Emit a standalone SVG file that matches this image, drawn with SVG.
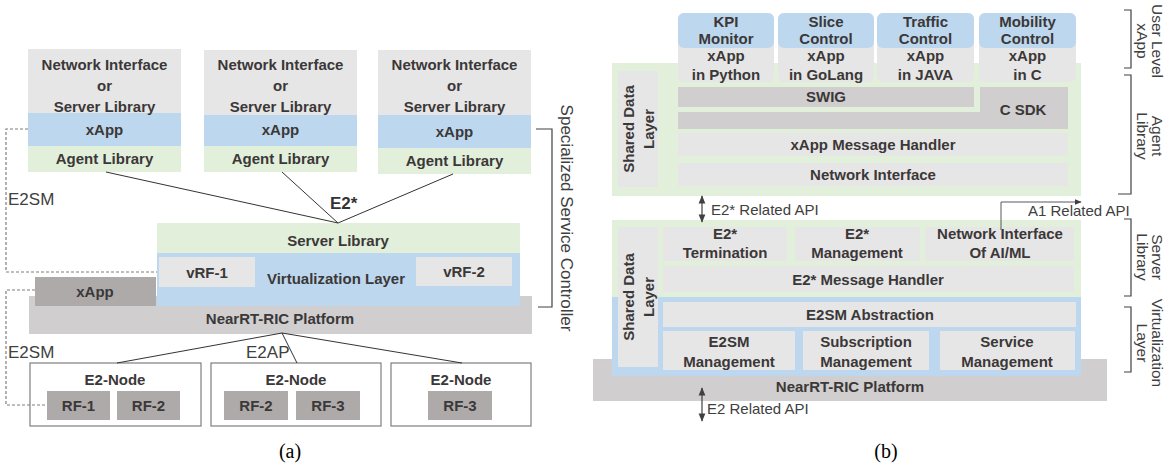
<svg xmlns="http://www.w3.org/2000/svg" width="1174" height="467" viewBox="0 0 1174 467">
<style>
.lg{fill:#e7e6e6}
.bl{fill:#bdd7ee}
.gr{fill:#e2efda}
.dg{fill:#aeaaaa}
.pg{fill:#d0cece}
.t{font-family:"Liberation Sans",Arial,sans-serif;font-weight:bold;font-size:15px;fill:#3b3838;text-anchor:middle}
.r{font-family:"Liberation Sans",Arial,sans-serif;font-size:17px;fill:#404040}
.s{font-family:"Liberation Sans",Arial,sans-serif;font-size:15px;fill:#404040}
.v{font-family:"Liberation Sans",Arial,sans-serif;font-size:15.5px;fill:#404040;text-anchor:middle}
.cap{font-family:"Liberation Serif","Times New Roman",serif;font-size:20px;fill:#000;text-anchor:middle}
.ln{stroke:#333;stroke-width:1;fill:none}
.dash{stroke:#7f7f7f;stroke-width:1.2;stroke-dasharray:3 2;fill:none}
.br{stroke:#404040;stroke-width:1.2;fill:none}
.nb{fill:#fff;stroke:#7f7f7f;stroke-width:1.2}
</style>
<defs>
<marker id="ah" viewBox="0 0 10 10" refX="9" refY="5" markerWidth="7" markerHeight="7" orient="auto-start-reverse"><path d="M0,1 L10,5 L0,9 Z" fill="#404040"/></marker>
</defs>

<!-- ===== Panel (a) ===== -->
<g id="a-box1">
<rect class="lg" x="28" y="49" width="153" height="64"/>
<rect class="bl" x="28" y="113" width="153" height="33"/>
<rect class="gr" x="28" y="146" width="153" height="26"/>
<text class="t" x="104.5" y="70">Network Interface</text>
<text class="t" x="104.5" y="91">or</text>
<text class="t" x="104.5" y="112">Server Library</text>
<text class="t" x="104.5" y="135">xApp</text>
<text class="t" x="104.5" y="164">Agent Library</text>
</g>
<g id="a-box2">
<rect class="lg" x="204" y="50" width="153" height="65"/>
<rect class="bl" x="204" y="115" width="153" height="31"/>
<rect class="gr" x="204" y="146" width="153" height="26"/>
<text class="t" x="280.5" y="70">Network Interface</text>
<text class="t" x="280.5" y="91">or</text>
<text class="t" x="280.5" y="112">Server Library</text>
<text class="t" x="280.5" y="135">xApp</text>
<text class="t" x="280.5" y="164">Agent Library</text>
</g>
<g id="a-box3">
<rect class="lg" x="378" y="50" width="153" height="65"/>
<rect class="bl" x="378" y="115" width="153" height="33"/>
<rect class="gr" x="378" y="148" width="153" height="26"/>
<text class="t" x="454.5" y="70">Network Interface</text>
<text class="t" x="454.5" y="91">or</text>
<text class="t" x="454.5" y="112">Server Library</text>
<text class="t" x="454.5" y="137">xApp</text>
<text class="t" x="454.5" y="166">Agent Library</text>
</g>

<g id="a-platform">
<rect class="pg" x="29" y="296" width="503" height="38"/>
<text class="t" x="280" y="324">NearRT-RIC Platform</text>
</g>
<g id="a-server">
<rect class="gr" x="157" y="223" width="363" height="30"/>
<text class="t" x="338" y="246">Server Library</text>
</g>
<g id="a-virt">
<rect class="bl" x="157" y="253" width="363" height="53"/>
<text class="t" x="336" y="284">Virtualization Layer</text>
</g>
<g id="a-vrf1">
<rect class="lg" x="159" y="257" width="96" height="30"/>
<text class="t" x="207" y="278">vRF-1</text>
</g>
<g id="a-vrf2">
<rect class="lg" x="416" y="257" width="96" height="29"/>
<text class="t" x="464" y="277">vRF-2</text>
</g>
<g id="a-xapp">
<rect class="dg" x="35" y="277" width="121" height="29"/>
<text class="t" x="95" y="297">xApp</text>
</g>

<g id="a-node1">
<rect class="nb" x="30" y="363" width="171" height="63"/>
<text class="t" x="115" y="385">E2-Node</text>
<rect class="dg" x="47" y="391" width="63" height="29"/>
<text class="t" x="78.5" y="411">RF-1</text>
<rect class="dg" x="117" y="391" width="63" height="29"/>
<text class="t" x="148.5" y="411">RF-2</text>
</g>
<g id="a-node2">
<rect class="nb" x="211" y="363" width="170" height="63"/>
<text class="t" x="296" y="385">E2-Node</text>
<rect class="dg" x="224" y="391" width="64" height="29"/>
<text class="t" x="256" y="411">RF-2</text>
<rect class="dg" x="296" y="391" width="64" height="29"/>
<text class="t" x="328" y="411">RF-3</text>
</g>
<g id="a-node3">
<rect class="nb" x="391" y="363" width="140" height="63"/>
<text class="t" x="461" y="385">E2-Node</text>
<rect class="dg" x="428" y="391" width="64" height="29"/>
<text class="t" x="460" y="411">RF-3</text>
</g>

<g id="a-connectors">
<path class="ln" d="M106,172 L338,223 M282,172 L338,223 M453,174 L338,223"/>
<path class="ln" d="M282,333 L117,363 M282,333 L297,363 M282,333 L462,363"/>
<path class="dash" d="M28,129 H6 V272 H157"/>
<path class="dash" d="M35,290 H6 V405 H47"/>
<path class="br" d="M536,129 H552 V307 H538"/>
</g>
<g id="a-labels">
<text x="330" y="209" style="font-family:'Liberation Sans',Arial,sans-serif;font-weight:bold;font-size:17px;fill:#333">E2*</text>
<text class="r" x="8" y="205">E2SM</text>
<text class="r" x="8" y="358">E2SM</text>
<text class="r" x="246" y="358">E2AP</text>
<text class="r" transform="translate(567,218) rotate(90)" x="0" y="6" text-anchor="middle">Specialized Service Controller</text>
<text class="cap" x="290" y="458">(a)</text>
</g>

<!-- ===== Panel (b) ===== -->
<g id="b-platform">
<rect class="pg" x="593" y="359" width="514" height="42"/>
<text class="t" x="850" y="392">NearRT-RIC Platform</text>
</g>
<g id="b-agent">
<rect class="gr" x="612" y="63" width="469" height="133"/>
</g>
<g id="b-server">
<rect class="gr" x="612" y="220" width="469" height="77"/>
</g>
<g id="b-virt">
<rect class="bl" x="612" y="297" width="469" height="79"/>
</g>

<g id="b-xapp-kpi">
<rect class="lg" x="678" y="13" width="96" height="69" rx="6"/>
<rect class="bl" x="678" y="13" width="96" height="35" rx="6"/>
<text class="t" x="726" y="27">KPI</text>
<text class="t" x="726" y="44">Monitor</text>
<text class="t" x="726" y="61">xApp</text>
<text class="t" x="726" y="80">in Python</text>
</g>
<g id="b-xapp-slice">
<rect class="lg" x="778" y="13" width="96" height="69" rx="6"/>
<rect class="bl" x="778" y="13" width="96" height="35" rx="6"/>
<text class="t" x="826" y="27">Slice</text>
<text class="t" x="826" y="44">Control</text>
<text class="t" x="826" y="61">xApp</text>
<text class="t" x="826" y="80">in GoLang</text>
</g>
<g id="b-xapp-traffic">
<rect class="lg" x="877" y="13" width="97" height="69" rx="6"/>
<rect class="bl" x="877" y="13" width="97" height="35" rx="6"/>
<text class="t" x="925.5" y="27">Traffic</text>
<text class="t" x="925.5" y="44">Control</text>
<text class="t" x="925.5" y="61">xApp</text>
<text class="t" x="925.5" y="80">in JAVA</text>
</g>
<g id="b-xapp-mobility">
<rect class="lg" x="979" y="13" width="97" height="69" rx="6"/>
<rect class="bl" x="979" y="13" width="97" height="35" rx="6"/>
<text class="t" x="1027.5" y="27">Mobility</text>
<text class="t" x="1027.5" y="44">Control</text>
<text class="t" x="1027.5" y="61">xApp</text>
<text class="t" x="1027.5" y="80">in C</text>
</g>

<g id="b-shared1">
<rect class="lg" x="618" y="71" width="40" height="116"/>
<text class="t" transform="translate(638,129) rotate(-90)" x="0" y="-4">Shared Data</text>
<text class="t" transform="translate(638,129) rotate(-90)" x="0" y="16">Layer</text>
</g>
<g id="b-swig">
<rect class="pg" x="678" y="87" width="296" height="20"/>
<text class="t" x="826" y="102">SWIG</text>
</g>
<g id="b-csdk">
<path class="pg" d="M980,87 H1068 V129 H678 V112 H980 Z"/>
<text class="t" x="1023" y="115">C SDK</text>
</g>
<g id="b-msg">
<rect class="lg" x="678" y="133" width="390" height="23"/>
<text class="t" x="873" y="150">xApp Message Handler</text>
</g>
<g id="b-netif">
<rect class="lg" x="678" y="163" width="390" height="23"/>
<text class="t" x="873" y="180">Network Interface</text>
</g>

<g id="b-shared2">
<rect class="lg" x="618" y="227" width="40" height="140"/>
<text class="t" transform="translate(638,297) rotate(-90)" x="0" y="-4">Shared Data</text>
<text class="t" transform="translate(638,297) rotate(-90)" x="0" y="16">Layer</text>
</g>
<g id="b-e2term">
<rect class="lg" x="663" y="227" width="124" height="34"/>
<text class="t" x="725" y="239">E2*</text>
<text class="t" x="725" y="258">Termination</text>
</g>
<g id="b-e2mgmt">
<rect class="lg" x="795" y="227" width="125" height="34"/>
<text class="t" x="857" y="239">E2*</text>
<text class="t" x="857" y="258">Management</text>
</g>
<g id="b-aiml">
<rect class="lg" x="925" y="227" width="149" height="34"/>
<text class="t" x="1000" y="239">Network Interface</text>
<text class="t" x="1000" y="258">Of AI/ML</text>
</g>
<g id="b-e2msg">
<rect class="lg" x="663" y="266" width="411" height="26"/>
<text class="t" x="868" y="285">E2* Message Handler</text>
</g>
<g id="b-e2smabs">
<rect class="lg" x="663" y="302" width="413" height="25"/>
<text class="t" x="870" y="320">E2SM Abstraction</text>
</g>
<g id="b-e2smmgmt">
<rect class="lg" x="663" y="331" width="132" height="39"/>
<text class="t" x="729" y="347">E2SM</text>
<text class="t" x="729" y="367">Management</text>
</g>
<g id="b-submgmt">
<rect class="lg" x="803" y="331" width="126" height="39"/>
<text class="t" x="866" y="347">Subscription</text>
<text class="t" x="866" y="367">Management</text>
</g>
<g id="b-svcmgmt">
<rect class="lg" x="940" y="331" width="135" height="39"/>
<text class="t" x="1007" y="347">Service</text>
<text class="t" x="1007" y="367">Management</text>
</g>

<g id="b-connectors">
<path d="M702,196 V222" stroke="#404040" stroke-width="1.2" fill="none" marker-start="url(#ah)" marker-end="url(#ah)"/>
<path d="M702,388 V421" stroke="#404040" stroke-width="1.2" fill="none" marker-start="url(#ah)" marker-end="url(#ah)"/>
<path d="M1001,230 V202 H1081" stroke="#595959" stroke-width="1" fill="none" marker-end="url(#ah)"/>
<path class="br" d="M1124,10 H1131 V68 H1124"/>
<path class="br" d="M1124,75 H1131 V194 H1118"/>
<path class="br" d="M1124,219 H1131 V296 H1124"/>
<path class="br" d="M1124,307 H1131 V372 H1124"/>
</g>
<g id="b-labels">
<text class="s" x="711" y="215">E2* Related API</text>
<text class="s" x="1028" y="216">A1 Related API</text>
<text class="s" x="707" y="414">E2 Related API</text>
<text class="v" transform="translate(1157,41) rotate(90)" x="0" y="5">User Level</text>
<text class="v" transform="translate(1142,41) rotate(90)" x="0" y="5">xApp</text>
<text class="v" transform="translate(1157,136) rotate(90)" x="0" y="5">Agent</text>
<text class="v" transform="translate(1142,136) rotate(90)" x="0" y="5">Library</text>
<text class="v" transform="translate(1157,257) rotate(90)" x="0" y="5">Server</text>
<text class="v" transform="translate(1142,257) rotate(90)" x="0" y="5">Library</text>
<text class="v" transform="translate(1157,343) rotate(90)" x="0" y="5">Virtualization</text>
<text class="v" transform="translate(1142,343) rotate(90)" x="0" y="5">Layer</text>
<text class="cap" x="886" y="458">(b)</text>
</g>
</svg>
